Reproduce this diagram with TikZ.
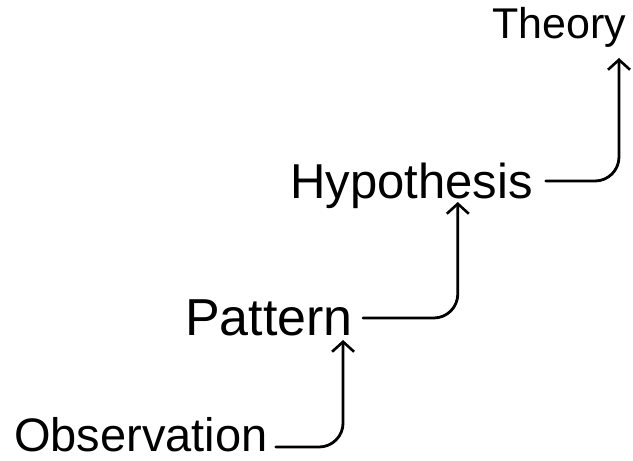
\documentclass[tikz,border=0pt]{standalone}
\usepackage{fontspec}
\setmainfont{Liberation Sans}
\usetikzlibrary{arrows.meta}
\begin{document}
\begin{tikzpicture}[x=1pt,y=-1pt,
  lbl/.style={inner sep=0pt, anchor=base west, font=\fontsize{47}{50}\selectfont},
  conn/.style={line width=2.8pt, rounded corners=24pt, line cap=round,
    -{Straight Barb[length=10pt,width=22pt,line width=2.6pt]}}]
\useasboundingbox (0,0) rectangle (633,461);
\node[lbl] (obs) at (14,451) {Observation};
\node[lbl, font=\fontsize{52}{55}\selectfont] (pat) at (185,335) {Pattern};
\node[lbl, font=\fontsize{49}{52}\selectfont] (hyp) at (290,198) {Hypothesis};
\node[lbl, font=\fontsize{43}{46}\selectfont] (the) at (492,38) {Theory};
\draw[conn] ([xshift=8pt,yshift=4pt]obs.base east) -| ([xshift=-10pt,yshift=-5pt]pat.base east);
\draw[conn] ([xshift=10pt,yshift=17pt]pat.base east) -| ([xshift=-75pt,yshift=-4pt]hyp.base east);
\draw[conn] ([xshift=13pt,yshift=17pt]hyp.base east) -| ([xshift=127pt,yshift=-20pt]the.base west);
\end{tikzpicture}
\end{document}
